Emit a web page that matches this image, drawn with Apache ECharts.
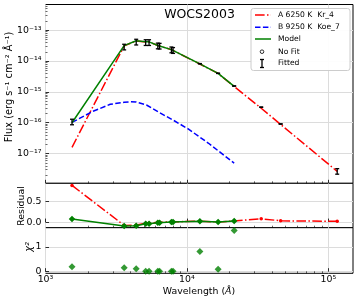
<!DOCTYPE html>
<html><head><meta charset="utf-8">
<script src="https://cdn.jsdelivr.net/npm/echarts@6/dist/echarts.min.js"></script>
<style>html,body{margin:0;padding:0;background:#fff}#c{width:357px;height:302px}</style>
</head><body><div id="c"></div>
<script>
// ---- data ----
const wavelengths = [1540, 3600, 4380, 5110, 5400, 6230, 6410, 7770, 7980, 12350, 16620, 21590, 33526, 46028, 115608];
const observedFlux = [1.08e-16, 2.9e-14, 4.2e-14, 4.05e-14, 4.05e-14, 3.15e-14, 3.1e-14, 2.35e-14, 2.25e-14, 8.2e-15, 4.0e-15, 1.55e-15, 3.2e-16, 9.1e-17, 2.7e-18];
const fluxError = [2.2e-17, 6.0e-15, 8.8e-15, 8.5e-15, 8.5e-15, 6.6e-15, 6.5e-15, 5.0e-15, 4.8e-15, 1.0e-16, 5.0e-17, 2.0e-17, 5.0e-18, 1.5e-18, 5.5e-19];
const modelA = [1.6e-17, 3.1e-14, 4.5e-14, 4.16e-14, 4.16e-14, 3.18e-14, 3.13e-14, 2.34e-14, 2.24e-14, 8.0e-15, 3.97e-15, 1.5e-15, 2.95e-16, 8.8e-17, 2.65e-18];
const modelTotal = [1.0e-16, 3.15e-14, 4.55e-14, 4.2e-14, 4.2e-14, 3.2e-14, 3.15e-14, 2.35e-14, 2.25e-14, 8.05e-15, 3.98e-15, 1.51e-15];
const modelBWave = [1540, 2190, 2870, 3600, 3980, 4380, 5175, 6340, 7960, 10210, 14220, 21590];
const modelB = [1.03e-16, 2.4e-16, 3.96e-16, 4.6e-16, 4.8e-16, 4.7e-16, 3.76e-16, 2.18e-16, 1.23e-16, 6.3e-17, 2.16e-17, 4.9e-18];
const residualTotal = [0.071, -0.095, -0.088, -0.04, -0.04, -0.017, -0.017, 0.0, 0.0, 0.017, 0.0, 0.024];
const residualA = [0.88, -0.08, -0.075, -0.028, -0.028, -0.007, -0.007, 0.005, 0.005, 0.02, 0.002, 0.027, 0.079, 0.031, 0.017];
const chi2 = [0.20, 0.16, 0.12, 0.02, 0.02, 0.02, 0.02, 0.02, 0.02, 0.81, 0.10, 1.66];
// tick values
const xMajorTicks = [1e3, 1e4, 1e5];
const xMinorTicks = [2e3,3e3,4e3,5e3,6e3,7e3,8e3,9e3,2e4,3e4,4e4,5e4,6e4,7e4,8e4,9e4];
const fluxMajorTicks = [1e-17, 1e-16, 1e-15, 1e-14, 1e-13];
const fluxMinorTicks = [2e-18,3e-18,4e-18,5e-18,6e-18,7e-18,8e-18,9e-18,
  2e-17,3e-17,4e-17,5e-17,6e-17,7e-17,8e-17,9e-17,
  2e-16,3e-16,4e-16,5e-16,6e-16,7e-16,8e-16,9e-16,
  2e-15,3e-15,4e-15,5e-15,6e-15,7e-15,8e-15,9e-15,
  2e-14,3e-14,4e-14,5e-14,6e-14,7e-14,8e-14,9e-14,
  2e-13,3e-13,4e-13,5e-13,6e-13];
const residualTicks = [0, 0.5];
const chi2Ticks = [0, 1];
const titleText = 'WOCS2003';
const legendLabels = ['A 6250 K  Kr_4', 'B 9250 K  Koe_7', 'Model', 'No Fit', 'Fitted'];

// ---- styling ----
const FONT = 'DejaVu Sans';
const RED = '#ff0000', BLUE = '#0000ff', GREEN = '#008000';
const DASHDOT = [9.6, 2.4, 1.5, 2.4], DASHED = [5.5, 2.4];
const GRIDC = '#dcdcdc';
const SUP = {'-':'⁻','0':'⁰','1':'¹','2':'²','3':'³','4':'⁴','5':'⁵','6':'⁶','7':'⁷','8':'⁸','9':'⁹'};
function logLabel(v){const e=Math.round(Math.log10(v));return '10'+String(e).split('').map(c=>SUP[c]).join('');}
function zip(a,b){return a.map((v,i)=>[v,b[i]]);}

const L = 45.5, W = 307.5;
const grids = [
  {left:L, top:4.5, width:W, height:178.8},
  {left:L, top:183.3, width:W, height:44.4},
  {left:L, top:227.7, width:W, height:45.6}
].map(g=>Object.assign(g,{show:true, borderColor:'#000', borderWidth:1, backgroundColor:'#fff'}));

const XMIN = 1000, XMAX = 149500;
const YMIN = Math.pow(10,-17.963), YMAX = Math.pow(10,-12.167);
function majorX(gi, labels){
  return {type:'log', logBase:10, gridIndex:gi, min:XMIN, max:XMAX, position:'bottom',
    axisLine:{show:false},
    axisTick:{show:true, inside:true, length:3.5, customValues:xMajorTicks, lineStyle:{color:'#000',width:0.8}},
    axisLabel:{show:labels, customValues:xMajorTicks, formatter:logLabel, margin:2, color:'#000', fontFamily:FONT, fontSize:9.4},
    splitLine:{show:true, lineStyle:{color:GRIDC, width:1}}};
}
function minorX(gi){
  return {type:'log', logBase:10, gridIndex:gi, min:XMIN, max:XMAX, position:'bottom', offset:0,
    axisLine:{show:false}, axisLabel:{show:false}, splitLine:{show:false},
    axisTick:{show:true, inside:true, length:2, customValues:xMinorTicks, lineStyle:{color:'#000',width:0.6}}};
}
const yLabelBase = {color:'#000', fontFamily:FONT, fontSize:9.4, margin:4};

const LZ = 100;
function lg(el){el.z = LZ; return el;}

const option = {
  animation:false,
  backgroundColor:'#fff',
  grid:grids,
  xAxis:[majorX(0,false), majorX(1,false), majorX(2,true), minorX(0), minorX(1), minorX(2)],
  yAxis:[
    {type:'log', logBase:10, gridIndex:0, min:YMIN, max:YMAX, position:'left',
      axisLine:{show:false},
      axisTick:{show:true, inside:true, length:3.5, customValues:fluxMajorTicks, lineStyle:{color:'#000',width:0.8}},
      axisLabel:Object.assign({customValues:fluxMajorTicks, formatter:logLabel}, yLabelBase),
      splitLine:{show:true, lineStyle:{color:GRIDC, width:1}}},
    {type:'value', gridIndex:1, min:-0.135, max:0.93, position:'left',
      axisLine:{show:false},
      axisTick:{show:true, inside:true, length:3.5, customValues:residualTicks, lineStyle:{color:'#000',width:0.8}},
      axisLabel:Object.assign({customValues:residualTicks, formatter:v=>v.toFixed(1)}, yLabelBase),
      splitLine:{show:true, lineStyle:{color:GRIDC, width:1}}},
    {type:'value', gridIndex:2, min:-0.065, max:1.77, position:'left',
      axisLine:{show:false},
      axisTick:{show:true, inside:true, length:3.5, customValues:chi2Ticks, lineStyle:{color:'#000',width:0.8}},
      axisLabel:Object.assign({customValues:chi2Ticks, formatter:v=>String(Math.round(v))}, yLabelBase),
      splitLine:{show:true, lineStyle:{color:GRIDC, width:1}}},
    {type:'log', logBase:10, gridIndex:0, min:YMIN, max:YMAX, position:'left', offset:0,
      axisLine:{show:false}, axisLabel:{show:false}, splitLine:{show:false},
      axisTick:{show:true, inside:true, length:2, customValues:fluxMinorTicks, lineStyle:{color:'#000',width:0.6}}}
  ],
  series:[
    {type:'line', name:'A', xAxisIndex:0, yAxisIndex:0, data:zip(wavelengths, modelA), showSymbol:false, symbol:'none',
      lineStyle:{color:RED, width:1.5, type:DASHDOT}, z:2},
    {type:'line', name:'B', xAxisIndex:0, yAxisIndex:0, data:zip(modelBWave, modelB), showSymbol:false, symbol:'none',
      lineStyle:{color:BLUE, width:1.5, type:DASHED}, z:2},
    {type:'line', name:'Model', xAxisIndex:0, yAxisIndex:0, data:zip(wavelengths.slice(0,modelTotal.length), modelTotal), showSymbol:false, symbol:'none',
      lineStyle:{color:GREEN, width:1.5}, z:3},
    {type:'custom', name:'Fitted', xAxisIndex:0, yAxisIndex:0, z:5,
      data:wavelengths.map((w,i)=>[w, observedFlux[i], fluxError[i]]),
      encode:{x:0, y:1},
      renderItem:function(params, api){
        const x=api.value(0), y=api.value(1), e=api.value(2);
        const t=api.coord([x,y+e]), b=api.coord([x,y-e]);
        const hw=2, st={stroke:'#000', lineWidth:1.3};
        return {type:'group', children:[
          {type:'line', shape:{x1:t[0],y1:t[1],x2:b[0],y2:b[1]}, style:st},
          {type:'line', shape:{x1:t[0]-hw,y1:t[1],x2:t[0]+hw,y2:t[1]}, style:st},
          {type:'line', shape:{x1:b[0]-hw,y1:b[1],x2:b[0]+hw,y2:b[1]}, style:st}
        ]};
      }},
    {type:'line', name:'resA', xAxisIndex:1, yAxisIndex:1, data:zip(wavelengths, residualA),
      symbol:'circle', symbolSize:3.5, itemStyle:{color:RED}, lineStyle:{color:RED, width:1.5, type:DASHDOT}, z:2},
    {type:'line', name:'resTotal', xAxisIndex:1, yAxisIndex:1, data:zip(wavelengths.slice(0,residualTotal.length), residualTotal),
      symbol:'diamond', symbolSize:6.5, itemStyle:{color:GREEN}, lineStyle:{color:GREEN, width:1.5}, z:3},
    {type:'scatter', name:'chi2', xAxisIndex:2, yAxisIndex:2, data:zip(wavelengths.slice(0,chi2.length), chi2),
      symbol:'diamond', symbolSize:7, itemStyle:{color:GREEN}, z:3}
  ],
  graphic:[
    {type:'text', x:199.5, y:14.5, z:LZ, style:{text:titleText, fontFamily:FONT, fontSize:12.5, fill:'#000', align:'center', verticalAlign:'middle'}},
    {type:'text', x:9, y:87, rotation:Math.PI/2, style:{text:'Flux (erg s⁻¹ cm⁻² Å⁻¹)', fontFamily:FONT, fontSize:9.8, fill:'#000', align:'center', verticalAlign:'middle'}},
    {type:'text', x:21.5, y:206, rotation:Math.PI/2, style:{text:'Residual', fontFamily:FONT, fontSize:9.4, fill:'#000', align:'center', verticalAlign:'middle'}},
    {type:'text', x:29, y:247, rotation:Math.PI/2, style:{text:'χ²', fontFamily:FONT, fontSize:9.8, fontStyle:'italic', fill:'#000', align:'center', verticalAlign:'middle'}},
    {type:'text', x:199, y:291.5, style:{text:'{n|Wavelength (}{i|Å}{n|)}', rich:{n:{fontFamily:FONT,fontSize:9.4,fill:'#000'}, i:{fontFamily:FONT,fontSize:9.4,fontStyle:'italic',fill:'#000'}}, align:'center', verticalAlign:'middle'}},
    // legend
    lg({type:'rect', shape:{x:251, y:8.5, width:99, height:62, r:2.5}, style:{fill:'rgba(255,255,255,0.92)', stroke:'#cccccc', lineWidth:1}}),
    lg({type:'line', shape:{x1:255, y1:15, x2:271, y2:15}, style:{stroke:RED, lineWidth:1.5, lineDash:DASHDOT}}),
    lg({type:'line', shape:{x1:255, y1:27.3, x2:271, y2:27.3}, style:{stroke:BLUE, lineWidth:1.5, lineDash:DASHED}}),
    lg({type:'line', shape:{x1:255, y1:39, x2:271, y2:39}, style:{stroke:GREEN, lineWidth:1.5}}),
    lg({type:'circle', shape:{cx:262, cy:51.7, r:1.8}, style:{fill:'none', stroke:'#000', lineWidth:0.8}}),
    lg({type:'line', shape:{x1:262, y1:59.5, x2:262, y2:67.5}, style:{stroke:'#000', lineWidth:1.3}}),
    lg({type:'line', shape:{x1:260, y1:59.5, x2:264, y2:59.5}, style:{stroke:'#000', lineWidth:1.3}}),
    lg({type:'line', shape:{x1:260, y1:67.5, x2:264, y2:67.5}, style:{stroke:'#000', lineWidth:1.3}}),
    lg({type:'text', x:278, y:15, style:{text:legendLabels[0], fontFamily:FONT, fontSize:7.6, fill:'#000', verticalAlign:'middle'}}),
    lg({type:'text', x:278, y:27.3, style:{text:legendLabels[1], fontFamily:FONT, fontSize:7.6, fill:'#000', verticalAlign:'middle'}}),
    lg({type:'text', x:278, y:39, style:{text:legendLabels[2], fontFamily:FONT, fontSize:7.6, fill:'#000', verticalAlign:'middle'}}),
    lg({type:'text', x:278, y:51.7, style:{text:legendLabels[3], fontFamily:FONT, fontSize:7.6, fill:'#000', verticalAlign:'middle'}}),
    lg({type:'text', x:278, y:63.3, style:{text:legendLabels[4], fontFamily:FONT, fontSize:7.6, fill:'#000', verticalAlign:'middle'}})
  ]
};
const chart = echarts.init(document.getElementById('c'), null, {renderer:'canvas'});
chart.setOption(option);
</script></body></html>
